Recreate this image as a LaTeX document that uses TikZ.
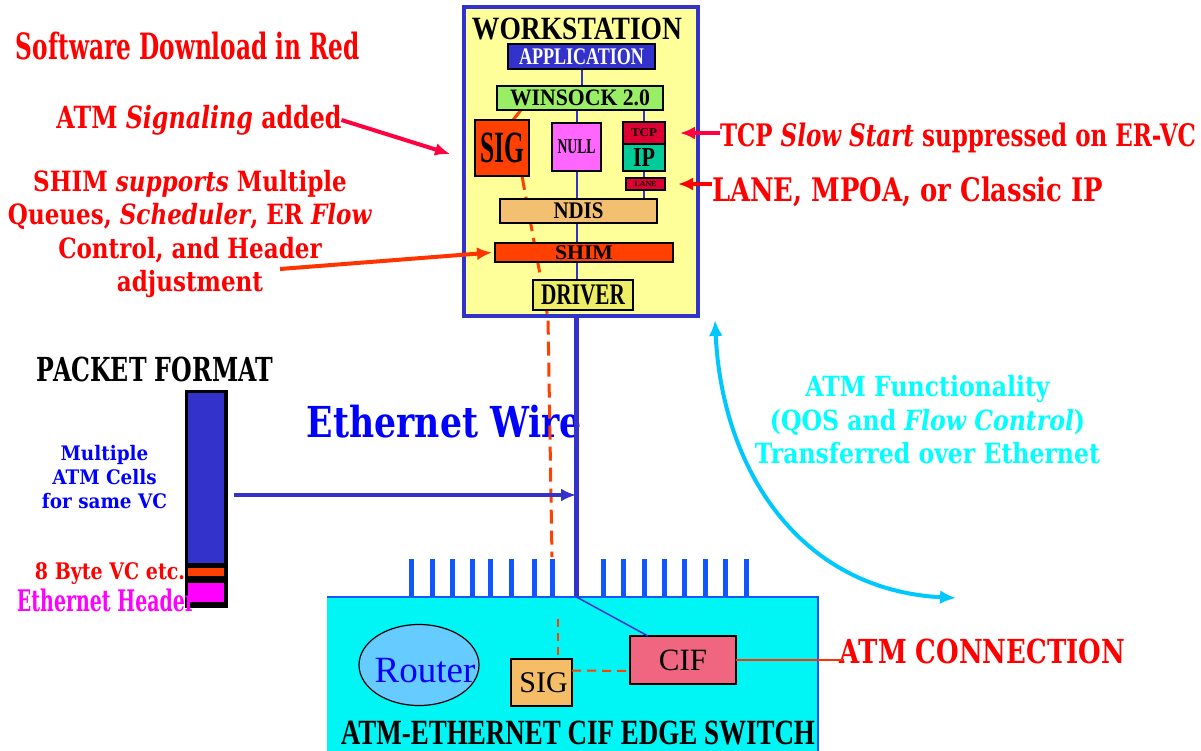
\documentclass[tikz,border=0pt]{standalone}
\usepackage{fontspec}
\setmainfont{Liberation Serif}
\newfontfamily\heavyfont{DejaVu Serif}
\usepackage{graphicx}
\usetikzlibrary{arrows.meta,shapes.geometric}
\definecolor{wsblue}{HTML}{3333CC}
\definecolor{wsyellow}{HTML}{FFFF99}
\definecolor{appgreen}{HTML}{99EE66}
\definecolor{sigred}{HTML}{FF4000}
\definecolor{nullpink}{HTML}{FF66FF}
\definecolor{tcpred}{HTML}{DD0033}
\definecolor{ipteal}{HTML}{00CC99}
\definecolor{ndistan}{HTML}{F2C070}
\definecolor{drvyellow}{HTML}{EEEE66}
\definecolor{swcyan}{HTML}{00F5F5}
\definecolor{portblue}{HTML}{1155FF}
\definecolor{routerblue}{HTML}{66CCFF}
\definecolor{sigtan}{HTML}{F5BD66}
\definecolor{cifpink}{HTML}{F06680}
\definecolor{curvecyan}{HTML}{00C8FF}
\definecolor{txtcyan}{HTML}{00FFFF}
\definecolor{arrowpink}{HTML}{FF0040}
\definecolor{arroworange}{HTML}{FF3300}
\definecolor{pureblue}{HTML}{0000FF}
\definecolor{purered}{HTML}{FF0000}
\definecolor{puremag}{HTML}{FF00FF}
\newcommand{\fitto}[3]{\resizebox*{#1pt}{#2pt}{#3}}
\pgfdeclarelayer{back}
\pgfdeclarelayer{mid}
\pgfsetlayers{back,mid,main}
\begin{document}
\begin{tikzpicture}[x=1pt,y=-1pt,
  every node/.style={inner sep=0pt, outer sep=0pt},
  hv/.style={font=\heavyfont\bfseries},
  tm/.style={font=\bfseries},
  bx/.style={draw=black, line width=1.5pt},
  link/.style={draw=wsblue, line width=2pt},
  sigdash/.style={draw=sigred, line width=3pt, dash pattern=on 14pt off 7pt},
  ptr/.style={-{Latex[length=15pt,width=13pt]}, line width=4pt},
  port/.style={draw=portblue, line width=5pt}]

\clip (0,0) rectangle (1201,750);
\begin{pgfonlayer}{back}
\fill[white] (0,0) rectangle (1201,750);
% workstation frame
\node[draw=wsblue, line width=4pt, fill=wsyellow, minimum width=234pt, minimum height=309pt] (ws) at (581,161.5) {};
% Ethernet wire label (under the wire)
\node[hv, text=pureblue] (ewlbl) at (444.5,421.5) {\fitto{275}{33}{Ethernet Wire}};
\end{pgfonlayer}

\node[tm] (wstitle) at (577,29) {\fitto{210}{22}{WORKSTATION}};

% workstation protocol stack
\node[bx, fill=wsblue, minimum width=147pt, minimum height=25pt] (app) at (581.5,56.5) {\color{white}\fitto{125}{16}{\bfseries APPLICATION}};
\node[bx, fill=appgreen, minimum width=166pt, minimum height=24pt] (winsock) at (580,98) {\fitto{140}{16}{\bfseries WINSOCK 2.0}};
\node[bx, fill=sigred, minimum width=54pt, minimum height=56pt] (sig) at (502,148) {\fitto{44}{30}{\bfseries SIG}};
\node[bx, fill=nullpink, minimum width=49pt, minimum height=48pt] (null) at (576.5,147) {\fitto{38}{14}{\bfseries NULL}};
\node[bx, fill=tcpred, minimum width=42pt, minimum height=22pt] (tcp) at (644,133) {\fitto{26}{8}{\bfseries TCP}};
\node[bx, fill=ipteal, minimum width=42pt, minimum height=27pt] (ip) at (644,157.5) {\fitto{22}{18}{\bfseries IP}};
\node[bx, fill=tcpred, minimum width=39pt, minimum height=12pt] (lane) at (645.5,184) {\fitto{22}{5}{\bfseries LANE}};
\node[bx, fill=ndistan, minimum width=157pt, minimum height=24pt] (ndis) at (578.5,211) {\fitto{50}{16}{\bfseries NDIS}};
\node[bx, fill=sigred, minimum width=178pt, minimum height=19pt] (shim) at (584,252.5) {\fitto{58}{14}{\bfseries SHIM}};
\node[bx, fill=drvyellow, minimum width=100pt, minimum height=30pt] (driver) at (583,295) {\fitto{84}{20}{\bfseries DRIVER}};

% switch
\node[fill=swcyan, minimum width=491pt, minimum height=156pt] (sw) at (572.5,675) {};
\draw[portblue, line width=1.5pt] (sw.north west) -- (sw.north east) -- (sw.south east);
\foreach \px in {411,432,452,472,490,511,534,552,603,623,644,664,684,705,725,746}
  \draw[port] (\px,597) -- (\px,559);

\coordinate (dbend) at (548,318);
\coordinate (dport) at (552,557);
\begin{pgfonlayer}{mid}
% signalling path (dashed red)
\draw[sigdash] ([xshift=11pt]sig.north) -- ([xshift=-59pt]winsock.south);
\draw[sigdash] ([xshift=20pt]sig.south) -- (dbend) -- (dport);
% stack links
\draw[link] (app.south) -- (app.south |- winsock.north);
\draw[link] (null.north) -- (null.north |- winsock.south);
\draw[link] (null.south) -- (null.south |- ndis.north);
\draw[link] (null.south |- ndis.south) -- (null.south |- shim.north);
\draw[link] (null.south |- shim.south) -- (null.south |- driver.north);
\draw[link] (tcp.north) -- (tcp.north |- winsock.south);
\draw[link] (ip.south) -- (ip.south |- lane.north);
\draw[link] (ip.south |- lane.south) -- (ip.south |- ndis.north);
% Ethernet wire
\draw[wsblue, line width=5pt] (ws.south -| null) -- (sw.north -| null);
\end{pgfonlayer}

% router, SIG, CIF in switch
\node[ellipse, draw=black, line width=1.2pt, fill=routerblue, minimum width=120pt, minimum height=81pt,
  label={[text=pureblue, font=\fontsize{37}{37}\selectfont, xshift=6pt, yshift=-6pt]center:Router}] (router) at (419,665) {};
\node[bx, fill=sigtan, minimum width=61pt, minimum height=47pt, font=\fontsize{30}{30}\selectfont] (sig2) at (541.5,682.5) {\raisebox{-5pt}{\hspace*{4pt}SIG}};
\node[bx, fill=cifpink, minimum width=106pt, minimum height=48pt, font=\fontsize{31}{31}\selectfont] (cif) at (683,660) {CIF};
\draw[wsblue, line width=1.5pt] (sw.north -| null) -- ([xshift=18pt]cif.north west);
\draw[sigdash, dash pattern=on 8pt off 6pt, line width=2pt] ([xshift=16pt,yshift=40pt]sig2.north) -- ([xshift=16pt]sig2.north);
\draw[sigdash, dash pattern=on 9pt off 6pt, line width=2pt] ([yshift=12pt]sig2.east) -- ([yshift=-11pt]cif.west);
\node[tm] (swlbl) at (578,733) {\fitto{474}{24}{ATM-ETHERNET CIF EDGE SWITCH}};

% ATM connection
\node[hv, text=purered] (atmc) at (982.5,651) {\fitto{285}{25}{ATM CONNECTION}};
\draw[arroworange, line width=2.5pt] (cif.east) -- ([xshift=4pt]cif.east -| atmc.west);

% left red notes
\node[hv, text=purered] (swdl) at (188,46) {\fitto{344}{28}{Software Download in Red}};
\node[hv, text=purered] (atmsig) at (199,120) {\fitto{285}{30}{ATM \textit{Signaling} added}};
\coordinate (sigtip) at (450,154);
\draw[ptr, arrowpink] (atmsig.east) -- (sigtip);
\node[hv, text=purered] (shimlbl) at (190,235) {\fitto{364}{134}{\begin{tabular}{@{}c@{}}SHIM \textit{supports} Multiple\\Queues, \textit{Scheduler}, ER \textit{Flow}\\Control, and Header\\adjustment\end{tabular}}};
\coordinate (shimtail) at (280,269);
\draw[ptr, arroworange] (shimtail) -- ([xshift=-3pt]shim.west);

% right red notes
\node[hv, text=purered, anchor=west] (tcplbl) at (720,138) {\fitto{476}{30}{TCP \textit{Slow Start} suppressed on ER-VC}};
\draw[ptr, arrowpink] (tcplbl.west |- tcp.east) -- ([xshift=15pt]tcp.east);
\node[hv, text=purered, anchor=west] (lanelbl) at (712,192) {\fitto{391}{30}{LANE, MPOA, or Classic IP}};
\draw[ptr, purered] (lanelbl.west |- lane.east) -- ([xshift=13pt]lane.east);

% packet format
\node[hv] (pktlbl) at (155,369.5) {\fitto{236}{25}{PACKET FORMAT}};
\node[fill=black, minimum width=43pt, minimum height=218pt] (pkt) at (206.5,499) {};
\node[fill=wsblue, minimum width=36pt, minimum height=170pt] (cells) at (206,478) {};
\node[fill=sigred, minimum width=36pt, minimum height=8pt] (vchdr) at (206,572) {};
\node[fill=puremag, minimum width=36pt, minimum height=19pt] (ethhdr) at (206,592.5) {};
\node[hv, text=pureblue] (cellslbl) at (104.5,480) {\fitto{125}{72}{\begin{tabular}{@{}c@{}}Multiple\\ATM Cells\\for same VC\end{tabular}}};
\node[hv, text=purered] (vclbl) at (110,574) {\fitto{150}{22}{8 Byte VC etc.}};
\node[hv, text=puremag] (ethlbl) at (106,600) {\fitto{178}{23}{Ethernet Header}};
\coordinate (celltip) at (576,495);
\draw[ptr, wsblue, shorten <=6pt] (pkt.east |- celltip) -- (celltip);

% ATM functionality over Ethernet
\coordinate (cyantop) at (715,320);
\coordinate (cyanbot) at (956,598);
\draw[curvecyan, line width=4pt, {Latex[length=16pt,width=14pt]}-{Latex[length=16pt,width=14pt]}] (cyantop) .. controls (722,470) and (800,590) .. (cyanbot);
\node[hv, text=txtcyan] (atmfn) at (927.5,423.5) {\fitto{345}{100}{\begin{tabular}{@{}c@{}}ATM Functionality\\(QOS and \textit{Flow Control})\\Transferred over Ethernet\end{tabular}}};
\end{tikzpicture}
\end{document}
